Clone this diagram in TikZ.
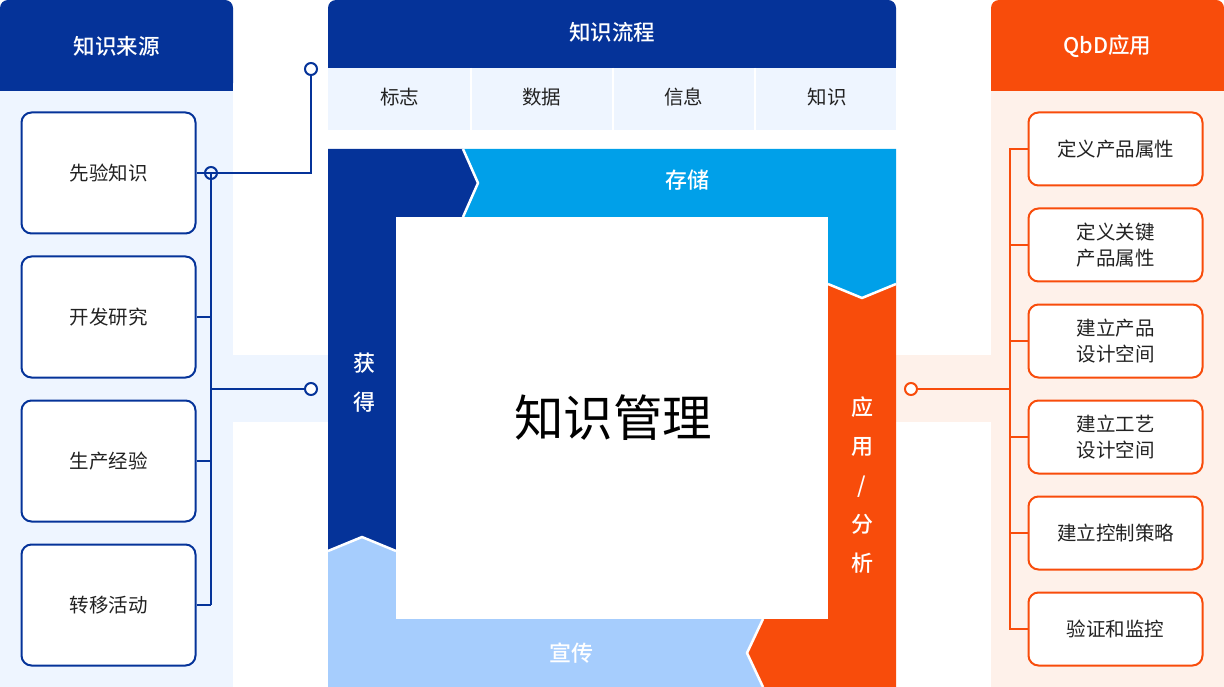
\documentclass[tikz,border=0pt]{standalone}
\usepackage{fontspec}
\setmainfont{Noto Sans CJK SC}
\newfontfamily\medfont{Noto Sans CJK SC Medium}
\definecolor{dblue}{HTML}{053399}
\definecolor{sky}{HTML}{00A0E9}
\definecolor{org}{HTML}{F84C0B}
\definecolor{lblue}{HTML}{A6CDFD}
\definecolor{pale}{HTML}{EEF5FF}
\definecolor{peach}{HTML}{FEF1EA}
\definecolor{txt}{HTML}{222222}
\begin{document}
\begin{tikzpicture}[x=1pt,y=-1pt,
  lbox/.style={draw=dblue,line width=2pt,rounded corners=10pt,fill=white,minimum width=174pt,minimum height=121pt,inner sep=0pt,text=txt,font=\fontsize{19.5}{22}\selectfont},
  rbox/.style={draw=org,line width=2pt,rounded corners=10pt,fill=white,minimum width=174pt,minimum height=73pt,inner sep=0pt,align=center,text=txt,font=\fontsize{19.5}{26}\selectfont},
  head/.style={text=white,font=\medfont\fontsize{21.5}{24}\selectfont},
  cell/.style={text=txt,font=\fontsize{19.5}{22}\selectfont},
  seg/.style={text=white,font=\medfont\fontsize{22}{24}\selectfont},
  vseg/.style={text=white,align=center,font=\medfont\fontsize{22}{39}\selectfont},
  lline/.style={draw=dblue,line width=2pt},
  rline/.style={draw=org,line width=2pt},
  ldot/.style={circle,draw=dblue,line width=2pt,fill=white,minimum size=12pt,inner sep=0pt},
  rdot/.style={circle,draw=org,line width=2pt,fill=white,minimum size=12pt,inner sep=0pt},
  sep/.style={draw=white,line width=2.5pt,line join=round}]
\useasboundingbox (0,0) rectangle (1224,687);

% ---------- left panel ----------
\fill[pale] (0,40) rectangle (233,687);
\fill[pale] (233,355) rectangle (328,422);
\fill[dblue,rounded corners=8pt] (0,0) rectangle (233,91);
\fill[dblue] (0,40) rectangle (233,91);
\node[head] (lh) at (116.5,46) {知识来源};

% ---------- right panel ----------
\fill[peach] (991,40) rectangle (1224,687);
\fill[peach] (896,355) rectangle (991,422);
\fill[org,rounded corners=8pt] (991,0) rectangle (1224,91);
\fill[org] (991,40) rectangle (1224,91);
\node[head] (rh) at (1107.5,46) {QbD应用};

% ---------- knowledge flow header ----------
\fill[dblue,rounded corners=8pt] (328,0) rectangle (896,68);
\fill[dblue] (328,30) rectangle (896,68);
\node[head] (ch) at (612,32) {知识流程};
\fill[pale] (328,68) rectangle (896,130);
\draw[draw=white,line width=2pt] (470.5,68) -- (470.5,130) (612.5,68) -- (612.5,130) (754.5,68) -- (754.5,130);
\node[cell] (f1) at (399.5,97) {标志};
\node[cell] (f2) at (541.5,97) {数据};
\node[cell] (f3) at (683.5,97) {信息};
\node[cell] (f4) at (827,97) {知识};

% ---------- cycle frame ----------
\fill[dblue] (328,149) -- (463,149) -- (478,183) -- (463,217) -- (396,217) -- (396,551) -- (362,537) -- (328,551) -- cycle;
\fill[sky] (463,149) -- (896,149) -- (896,284) -- (862,298) -- (828,284) -- (828,217) -- (463,217) -- (478,183) -- cycle;
\fill[org] (828,284) -- (862,298) -- (896,284) -- (896,687) -- (763,687) -- (747,653) -- (763,619) -- (828,619) -- cycle;
\fill[lblue] (328,551) -- (362,537) -- (396,551) -- (396,619) -- (763,619) -- (747,653) -- (763,687) -- (328,687) -- cycle;
\draw[sep] (463,149) -- (478,183) -- (463,217);
\draw[sep] (828,284) -- (862,298) -- (896,284);
\draw[sep] (763,619) -- (747,653) -- (763,687);
\draw[sep] (328,551) -- (362,537) -- (396,551);
\fill[white] (396,217) rectangle (828,619);
\node[text=black,font=\fontsize{49.5}{56}\selectfont] (km) at (613,418) {知识管理};
\node[seg] (s1) at (687,180) {存储};
\node[seg] (s3) at (571,653) {宣传};
\node[vseg] (s0) at (364,383) {获\\得};
\node[vseg] (s2) at (862,485) {应\\用\\/\\分\\析};

% ---------- left boxes & connectors ----------
\node[lbox] (l1) at (108.5,173) {先验知识};
\node[lbox] (l2) at (108.5,317) {开发研究};
\node[lbox] (l3) at (108.5,461) {生产经验};
\node[lbox] (l4) at (108.5,605) {转移活动};
\coordinate (j1) at (211,173);
\coordinate (j2) at (211,317);
\coordinate (j3) at (211,461);
\coordinate (j4) at (211,605);
\coordinate (jm) at (211,389);
\coordinate (k1) at (311,173);
\node[ldot] (d2) at (311,69) {};
\node[ldot] (d3) at (311,389) {};
\draw[lline] (l1.east) -- (j1) -- (j4);
\draw[lline] (l2.east) -- (j2);
\draw[lline] (l3.east) -- (j3);
\draw[lline] (l4.east) -- (j4);
\draw[lline] (j1) -- (k1) -- (d2);
\draw[lline] (jm) -- (d3);
\node[ldot,fill=none] (d1) at (j1) {};

% ---------- right boxes & connectors ----------
\node[rbox] (r1) at (1115.5,149) {定义产品属性};
\node[rbox] (r2) at (1115.5,245) {定义关键\\产品属性};
\node[rbox] (r3) at (1115.5,341) {建立产品\\设计空间};
\node[rbox] (r4) at (1115.5,437) {建立工艺\\设计空间};
\node[rbox] (r5) at (1115.5,533) {建立控制策略};
\node[rbox] (r6) at (1115.5,629) {验证和监控};
\coordinate (q1) at (1010,149);
\coordinate (q2) at (1010,245);
\coordinate (q3) at (1010,341);
\coordinate (q4) at (1010,437);
\coordinate (q5) at (1010,533);
\coordinate (q6) at (1010,629);
\coordinate (qm) at (1010,389);
\node[rdot] (e1) at (911,389) {};
\draw[rline] (r1.west) -- (q1) -- (q6) -- (r6.west);
\draw[rline] (r2.west) -- (q2);
\draw[rline] (r3.west) -- (q3);
\draw[rline] (r4.west) -- (q4);
\draw[rline] (r5.west) -- (q5);
\draw[rline] (qm) -- (e1);
\end{tikzpicture}
\end{document}
